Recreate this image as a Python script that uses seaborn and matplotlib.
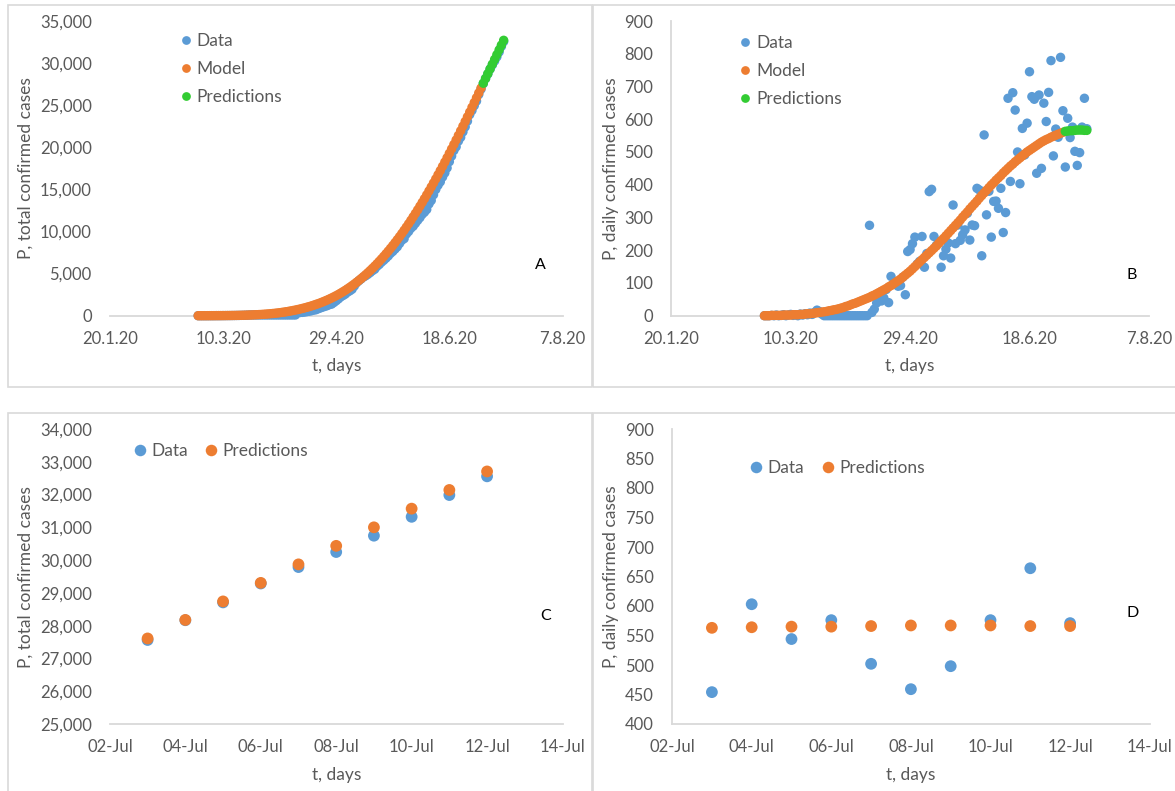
import datetime as dt

import matplotlib
matplotlib.use("Agg")
import matplotlib.pyplot as plt
import pandas as pd
import seaborn as sns
from matplotlib.lines import Line2D
from matplotlib.patches import Rectangle
from matplotlib.ticker import FuncFormatter

# ---------------------------------------------------------------- data
FIT_START = "2020-02-28"        # first day of the fitted period
FORECAST_START = "2020-07-03"   # first forecast day

# daily confirmed cases, 28 Feb - 2 Jul
daily_data = [
    0, 0, 0, 1, 0, 2, 0, 1, 3, 0,
    2, 4, 1, 3, 0, 5, 2, 6, 3, 8,
    4, 10, 17, 13, 5, 0, 0, 0, 0, 0,
    0, 0, 0, 0, 0, 0, 0, 0, 0, 0,
    0, 0, 0, 0, 276, 10, 20, 39, 50, 45,
    54, 80, 40, 120, 97, 95, 90, 92, 118, 64,
    196, 202, 220, 240, 158, 166, 242, 148, 190, 379,
    386, 242, 215, 225, 148, 183, 203, 222, 176, 338,
    220, 277, 230, 247, 262, 313, 231, 277, 275, 389,
    384, 183, 552, 308, 380, 240, 349, 350, 328, 389,
    254, 315, 664, 410, 681, 628, 500, 403, 572, 491,
    588, 745, 669, 661, 435, 674, 450, 649, 593, 682,
    779, 488, 570, 545, 789, 626,
]
daily_model = [
    0, 0, 0, 1, 1, 1, 1, 1, 2, 2,
    2, 2, 3, 3, 3, 4, 4, 5, 6, 6,
    7, 8, 9, 10, 11, 12, 13, 15, 16, 18,
    19, 21, 23, 25, 28, 30, 33, 36, 38, 41,
    44, 47, 50, 53, 56, 60, 63, 67, 71, 75,
    79, 83, 88, 92, 97, 102, 107, 112, 118, 124,
    130, 136, 143, 150, 157, 164, 171, 178, 185, 192,
    199, 206, 213, 221, 229, 236, 244, 252, 260, 268,
    276, 284, 292, 301, 309, 317, 326, 334, 342, 350,
    359, 367, 375, 383, 391, 399, 406, 414, 421, 428,
    436, 443, 450, 457, 463, 470, 476, 482, 488, 494,
    500, 505, 510, 515, 520, 525, 530, 534, 538, 541,
    545, 548, 551, 554, 557, 560,
]
# total confirmed cases, 28 Feb - 2 Jul
total_data = [
    0, 0, 0, 1, 1, 3, 3, 4, 7, 7,
    9, 13, 14, 17, 17, 22, 24, 30, 33, 41,
    45, 55, 72, 85, 90, 90, 90, 90, 90, 90,
    90, 90, 90, 90, 90, 90, 90, 90, 90, 90,
    90, 90, 90, 90, 366, 376, 396, 435, 485, 530,
    584, 664, 704, 824, 921, 1016, 1106, 1198, 1316, 1380,
    1576, 1778, 1998, 2238, 2396, 2562, 2804, 2952, 3142, 3521,
    3907, 4149, 4364, 4589, 4737, 4920, 5123, 5345, 5521, 5859,
    6079, 6356, 6586, 6833, 7095, 7408, 7639, 7916, 8191, 8580,
    8964, 9147, 9699, 10007, 10387, 10627, 10976, 11326, 11654, 12043,
    12297, 12612, 13276, 13686, 14367, 14995, 15495, 15898, 16470, 16961,
    17549, 18294, 18963, 19624, 20059, 20733, 21183, 21832, 22425, 23107,
    23886, 24374, 24944, 25489, 26278, 26904,
]
total_model = [
    0, 0, 0, 1, 2, 3, 4, 5, 7, 9,
    11, 13, 16, 20, 23, 27, 31, 36, 42, 48,
    56, 64, 73, 83, 95, 107, 121, 136, 152, 171,
    191, 212, 236, 262, 290, 321, 355, 392, 432, 474,
    519, 568, 619, 674, 731, 793, 858, 927, 1000, 1077,
    1159, 1244, 1335, 1430, 1530, 1635, 1745, 1860, 1982, 2109,
    2243, 2383, 2531, 2685, 2847, 3016, 3192, 3375, 3566, 3764,
    3969, 4181, 4400, 4628, 4864, 5107, 5358, 5618, 5885, 6161,
    6446, 6738, 7039, 7349, 7667, 7994, 8330, 8674, 9026, 9386,
    9756, 10134, 10520, 10915, 11318, 11729, 12147, 12573, 13007, 13448,
    13897, 14353, 14817, 15287, 15764, 16248, 16739, 17235, 17738, 18246,
    18761, 19282, 19807, 20337, 20873, 21414, 21960, 22510, 23064, 23621,
    24182, 24747, 25314, 25885, 26459, 27035,
]

# 3 Jul - 12 Jul
forecast_daily_data = [454, 603, 544, 576, 502, 459, 498, 576, 664, 571]
forecast_daily_pred = [563, 564, 565, 565, 566, 567, 567, 567, 566, 566]
forecast_total_data = [27563, 28166, 28710, 29286, 29788, 30247, 30745, 31321, 31985, 32556]
forecast_total_pred = [27610, 28175, 28740, 29305, 29870, 30435, 31000, 31570, 32140, 32705]

season_ticks = ["20.1.20", "10.3.20", "29.4.20", "18.6.20", "7.8.20"]
july_ticks = ["02-Jul", "04-Jul", "06-Jul", "08-Jul", "10-Jul", "12-Jul", "14-Jul"]
total_yticks = [0, 5000, 10000, 15000, 20000, 25000, 30000, 35000]
daily_yticks = [0, 100, 200, 300, 400, 500, 600, 700, 800, 900]
july_total_yticks = [25000, 26000, 27000, 28000, 29000, 30000, 31000, 32000, 33000, 34000]
july_daily_yticks = [400, 450, 500, 550, 600, 650, 700, 750, 800, 850, 900]

# ---------------------------------------------------------------- style
BLUE, ORANGE, GREEN = "#5B9BD5", "#ED7D31", "#33CC33"
GREY_TEXT = "#595959"
GREY_LINE = "#D9D9D9"

sns.set_style("white")
plt.rcParams["font.family"] = ["Lato", "DejaVu Sans"]

W, H = 1175, 791
fig = plt.figure(figsize=(W / 100, H / 100), dpi=100)
fig.patch.set_facecolor("white")


def px_rect(x0, y0, x1, y1):
    return [x0 / W, 1 - y1 / H, (x1 - x0) / W, (y1 - y0) / H]


def frame(series):
    parts = []
    for name, start, values in series:
        dates = pd.date_range(start, periods=len(values), freq="D")
        parts.append(pd.DataFrame({"date": dates, "value": values, "series": name}))
    return pd.concat(parts, ignore_index=True)


season_dates = [dt.datetime.strptime(s, "%d.%m.%y") for s in season_ticks]
july_dates = [dt.datetime.strptime(s + "-2020", "%d-%b-%Y") for s in july_ticks]
thousands = FuncFormatter(lambda v, _: f"{v:,.0f}")


def style_axes(ax, xdates, xlabels, yticks, show_yaxis):
    for side in ("top", "right", "left", "bottom"):
        ax.spines[side].set_visible(False)
    ax.spines["bottom"].set_visible(True)
    ax.spines["bottom"].set_color(GREY_LINE)
    ax.spines["bottom"].set_linewidth(1.3)
    ax.spines["bottom"].set_zorder(0)
    if show_yaxis:
        ax.spines["left"].set_visible(True)
        ax.spines["left"].set_color(GREY_LINE)
        ax.spines["left"].set_linewidth(1.3)
        ax.spines["left"].set_zorder(0)
    ax.set_xlim(xdates[0], xdates[-1])
    ax.set_xticks(xdates)
    ax.set_xticklabels(xlabels)
    ax.set_ylim(yticks[0], yticks[-1])
    ax.set_yticks(yticks)
    ax.yaxis.set_major_formatter(thousands)
    ax.tick_params(axis="both", length=0, labelsize=12, labelcolor=GREY_TEXT)
    ax.tick_params(axis="x", pad=11)
    ax.tick_params(axis="y", pad=13)
    ax.set_xlabel("")
    ax.set_ylabel("")
    ax.grid(False)


def add_legend(ax, names, colors, x_px, y_px, ncol, msize, colsp):
    handles = [Line2D([], [], ls="", marker="o", markersize=msize,
                      markerfacecolor=c, markeredgewidth=0) for c in colors]
    ax.legend(handles, names, loc="upper left",
              bbox_to_anchor=(x_px / W, 1 - y_px / H), bbox_transform=fig.transFigure,
              frameon=False, ncol=ncol, handlelength=0.6, handletextpad=0.35,
              labelspacing=0.68, columnspacing=colsp, borderpad=0, borderaxespad=0,
              fontsize=12.5, labelcolor=GREY_TEXT)


def draw(ax, df, palette, size):
    sns.scatterplot(data=df, x="date", y="value", hue="series", palette=palette,
                    s=size, linewidth=0, legend=False, clip_on=False, ax=ax)


PAL3 = {"Data": BLUE, "Model": ORANGE, "Predictions": GREEN}
PAL2 = {"Data": BLUE, "Predictions": ORANGE}

# ---- A: total cases, whole period
axA = fig.add_axes(px_rect(109.9, 21, 562.5, 315.7))
dfA = frame([("Data", FIT_START, total_data),
             ("Data", FORECAST_START, forecast_total_data),
             ("Model", FIT_START, total_model),
             ("Predictions", FORECAST_START, forecast_total_pred)])
draw(axA, dfA, PAL3, 46)
style_axes(axA, season_dates, season_ticks, total_yticks, False)
add_legend(axA, ["Data", "Model", "Predictions"], [BLUE, ORANGE, GREEN], 180.3, 33, 1, 6.3, 1.0)

# ---- B: daily cases, whole period
axB = fig.add_axes(px_rect(671.3, 21, 1148.9, 315.7))
dfB = frame([("Data", FIT_START, daily_data),
             ("Data", FORECAST_START, forecast_daily_data),
             ("Model", FIT_START, daily_model),
             ("Predictions", FORECAST_START, forecast_daily_pred)])
draw(axB, dfB, PAL3, 46)
style_axes(axB, season_dates, season_ticks, daily_yticks, True)
add_legend(axB, ["Data", "Model", "Predictions"], [BLUE, ORANGE, GREEN], 739.7, 35.3, 1, 6.3, 1.0)

# ---- C: total cases, forecast window
axC = fig.add_axes(px_rect(109.9, 429, 562.5, 724))
dfC = frame([("Data", FORECAST_START, forecast_total_data),
             ("Predictions", FORECAST_START, forecast_total_pred)])
draw(axC, dfC, PAL2, 72)
style_axes(axC, july_dates, july_ticks, july_total_yticks, False)
add_legend(axC, ["Data", "Predictions"], [BLUE, ORANGE], 135.1, 443, 2, 8.3, 1.0)

# ---- D: daily cases, forecast window
axD = fig.add_axes(px_rect(672.1, 429, 1149.7, 724))
dfD = frame([("Data", FORECAST_START, forecast_daily_data),
             ("Predictions", FORECAST_START, forecast_daily_pred)])
draw(axD, dfD, PAL2, 72)
style_axes(axD, july_dates, july_ticks, july_daily_yticks, True)
add_legend(axD, ["Data", "Predictions"], [BLUE, ORANGE], 750.8, 459.7, 2, 8.3, 1.1)

# ---- axis titles and panel letters
def ftext(x, y, s, **kw):
    fig.text(x / W, 1 - y / H, s, ha="center", va="center", **kw)


for x, y in [(336.3, 366), (909.8, 366), (336.3, 775), (910.9, 775)]:
    ftext(x, y, "t, days", fontsize=12.5, color=GREY_TEXT)
ftext(25.2, 168.3, "P, total confirmed cases", fontsize=12.5, color=GREY_TEXT, rotation=90)
ftext(611.3, 168.3, "P, daily confirmed cases", fontsize=12.5, color=GREY_TEXT, rotation=90)
ftext(25.2, 576.7, "P, total confirmed cases", fontsize=12.5, color=GREY_TEXT, rotation=90)
ftext(611.3, 576.7, "P, daily confirmed cases", fontsize=12.5, color=GREY_TEXT, rotation=90)
for x, y, s in [(540.3, 265, "A"), (1131.4, 275, "B"), (545.9, 616.3, "C"), (1132.5, 613.3, "D")]:
    ftext(x, y, s, fontsize=11.5, color="black")

# ---- chart-area borders
for x0, y0, x1, y1 in [(7.5, 5.3, 592, 387), (593, 5.3, 1185, 387),
                       (7.5, 413.3, 592, 800), (593, 413.3, 1185, 800)]:
    fig.add_artist(Rectangle((x0 / W, 1 - y1 / H), (x1 - x0) / W, (y1 - y0) / H,
                             transform=fig.transFigure, fill=False,
                             edgecolor=GREY_LINE, linewidth=1.2))

fig.savefig("out.png", dpi=100, facecolor="white")
